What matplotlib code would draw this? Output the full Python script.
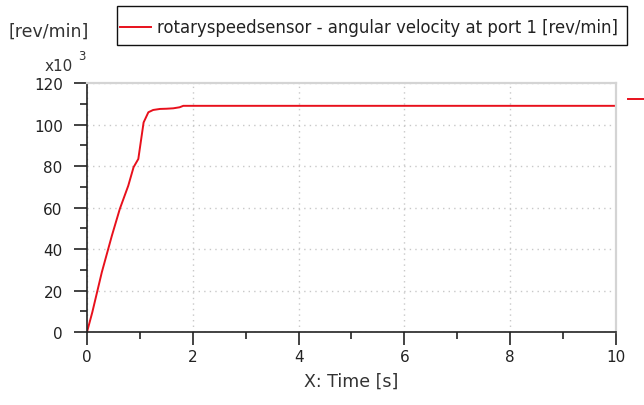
import matplotlib.pyplot as plt
from matplotlib.patches import Rectangle
from matplotlib.ticker import MultipleLocator

# angular velocity trace (time in s, speed in 1000 rev/min)
time_s = [0.0, 0.1, 0.28, 0.47, 0.62, 0.78, 0.88, 0.97, 1.07, 1.16, 1.25, 1.38, 1.5, 1.63, 1.75, 1.82, 10.0]
speed_k = [0.0, 9.5, 28.8, 46.4, 59.3, 70.5, 79.4, 83.4, 101.0, 105.9, 107.0, 107.5, 107.6, 107.8, 108.3, 109.0, 109.0]
series_label = "rotaryspeedsensor - angular velocity at port 1 [rev/min]"

red = "#e8101c"

fig = plt.figure(figsize=(6.44, 4.06), dpi=100)
ax = fig.add_axes([0.1351, 0.1798, 0.8214, 0.6133])

line, = ax.plot(time_s, speed_k, color=red, lw=1.4)
ax.set_xlim(0, 10)
ax.set_ylim(0, 120)

ax.xaxis.set_major_locator(MultipleLocator(2))
ax.xaxis.set_minor_locator(MultipleLocator(1))
ax.yaxis.set_major_locator(MultipleLocator(20))
ax.yaxis.set_minor_locator(MultipleLocator(10))
ax.tick_params(which="major", length=9.5, width=1.2, labelsize=11, pad=3,
               color="#222222", labelcolor="#222222")
ax.tick_params(axis="y", which="major", pad=8)
ax.tick_params(which="minor", length=5, width=1.2, color="#222222")
ax.grid(True, which="major", color="#c8c8c8", ls=(0, (1, 3)), lw=1)

for s in ("left", "bottom"):
    ax.spines[s].set_color("#222222")
    ax.spines[s].set_linewidth(1.2)
for s in ("top", "right"):
    ax.spines[s].set_color("#d4d4d4")
    ax.spines[s].set_linewidth(1.6)

ax.set_xlabel("X: Time [s]", fontsize=12.5, color="#333333", labelpad=5)
fig.text(0.013, 0.922, "[rev/min]", fontsize=12.5, color="#333333", va="center")
fig.text(0.069, 0.837, "x10", fontsize=11, color="#333333", va="center")
fig.text(0.122, 0.860, "3", fontsize=8.5, color="#333333", va="center")

# small marker at the right edge showing the last value
ax.plot([10.22, 10.55], [speed_k[-1] + 3.5] * 2, color=red, lw=1.4, clip_on=False)

# legend without its own frame, boxed separately to match the reference box
leg = fig.legend([line], [series_label], loc="center left", bbox_to_anchor=(0.1805, 0.930),
                 fontsize=11.9, frameon=False, handlelength=1.9,
                 handletextpad=0.35, borderpad=0.2, borderaxespad=0,
                 labelcolor="#222222")
fig.patches.append(Rectangle((0.1817, 0.8867), 0.792, 0.096, transform=fig.transFigure,
                             fill=False, edgecolor="#111111", lw=1.0))

fig.savefig("out.png", dpi=100)
